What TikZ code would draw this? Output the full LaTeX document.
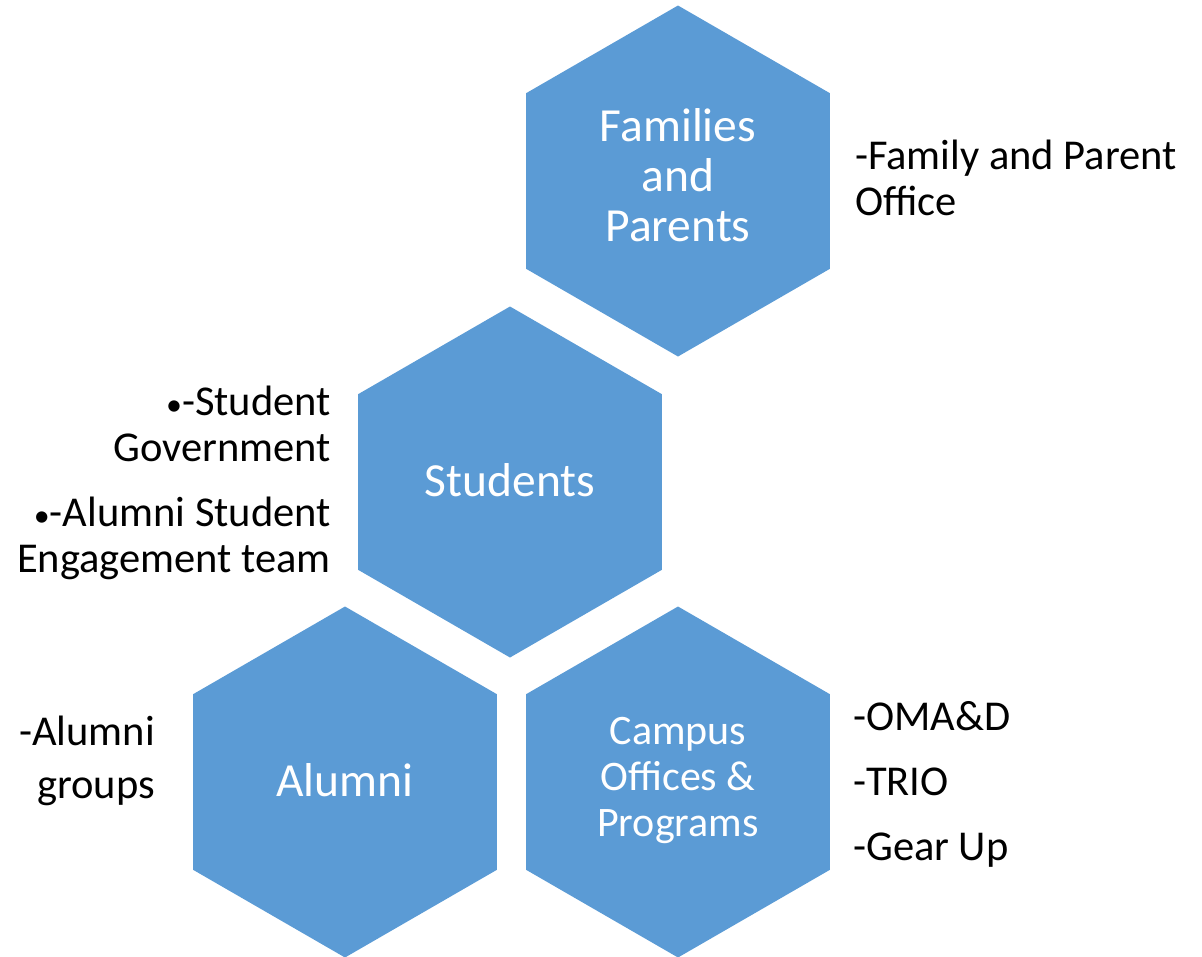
\documentclass[tikz,border=0pt]{standalone}
\usepackage{fontspec}
\setmainfont{Carlito}
\usepackage{tikz}
\usetikzlibrary{shapes.geometric, positioning}
\definecolor{hexblue}{HTML}{5B9BD5}
\newcommand{\sbullet}{{\fontsize{32}{46}\selectfont •}}
\newcommand{\hexstrut}{\rule[-0.22\baselineskip]{0pt}{\baselineskip}}

\begin{document}
\begin{tikzpicture}[x=1pt, y=-1pt,
        hex/.style = {regular polygon, regular polygon sides=6, regular polygon rotate=30,
            minimum size=351pt, inner sep=0pt,
            fill=hexblue, text=white, align=center, font=\fontsize{47.5}{50}\selectfont,
            execute at begin node=\hexstrut, execute at end node=\hexstrut},
        side/.style = {font=\fontsize{42.5}{46}\selectfont, inner sep=0pt}]
        \useasboundingbox (0,0) rectangle (1202,956);
        % hexagons
        \node[hex] (families) at (678,181) {Families\\and\\Parents};
        \node[hex] (students) at (510,482) {Students};
        \node[hex] (alumni) at (345,782) {Alumni};
        \node[hex, font=\fontsize{42}{46}\selectfont] (campus) at (678,782) {Campus\\Offices \&\\Programs};
        % side notes (base = last line)
        \node[side, anchor=base west, align=left] (familiesnote) at (855,215) {-Family and Parent\\Office};
        \node[side, anchor=base east, align=right] (studentsnote) at (331,572)
            {\sbullet-Student\\Government\\[19pt]\sbullet-Alumni Student\\Engagement team};
        \node[side, anchor=base east, align=right] (alumninote) at (155,798) {-Alumni\\[7pt]groups};
        \node[side, anchor=base west, align=left] (campusnote) at (853,860) {-OMA\&D\\[19pt]-TRIO\\[19pt]-Gear Up};
\end{tikzpicture}
\end{document}
